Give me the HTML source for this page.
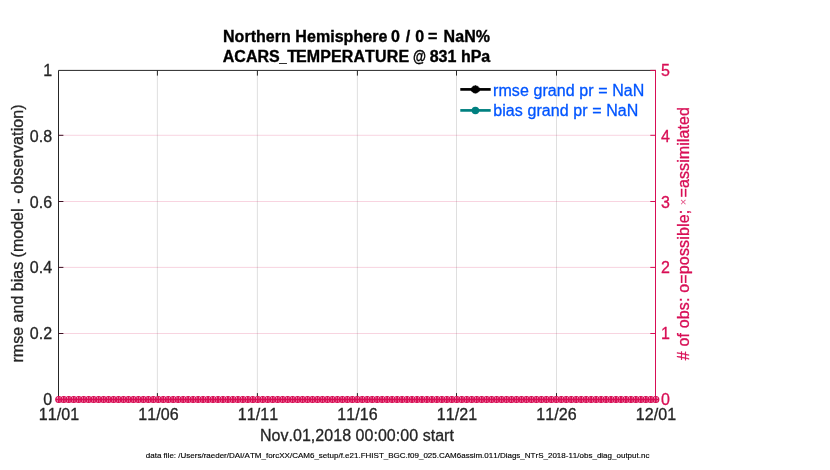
<!DOCTYPE html>
<html lang="en"><head><meta charset="utf-8"><title>ACARS_TEMPERATURE @ 831 hPa</title>
<style>html,body{margin:0;padding:0;background:#fff;}body{width:830px;height:470px;overflow:hidden;}svg{display:block;font-family:"Liberation Sans",Arial,Helvetica,sans-serif;}text{white-space:pre;font-kerning:none;}</style></head><body>
<svg width="830" height="470" viewBox="0 0 830 470">
<rect x="0" y="0" width="830" height="470" fill="#ffffff"/>
<g stroke="#262626" stroke-opacity="0.15" stroke-width="1">
<line x1="157.40" y1="70.4" x2="157.40" y2="399.5"/>
<line x1="257.40" y1="70.4" x2="257.40" y2="399.5"/>
<line x1="357.40" y1="70.4" x2="357.40" y2="399.5"/>
<line x1="456.50" y1="70.4" x2="456.50" y2="399.5"/>
<line x1="556.50" y1="70.4" x2="556.50" y2="399.5"/>
</g>
<g stroke="#d80e55" stroke-opacity="0.18" stroke-width="1">
<line x1="58.5" y1="135.30" x2="655.5" y2="135.30"/>
<line x1="58.5" y1="201.50" x2="655.5" y2="201.50"/>
<line x1="58.5" y1="267.40" x2="655.5" y2="267.40"/>
<line x1="58.5" y1="333.50" x2="655.5" y2="333.50"/>
</g>
<g stroke="#262626" stroke-width="1" fill="none">
<path d="M655.5 70.4 H58.5 V396.5 M58.5 399.5 H655.5"/>
<line x1="157.40" y1="70.4" x2="157.40" y2="75.60000000000001"/>
<line x1="157.40" y1="396.3" x2="157.40" y2="393.1"/>
<line x1="257.40" y1="70.4" x2="257.40" y2="75.60000000000001"/>
<line x1="257.40" y1="396.3" x2="257.40" y2="393.1"/>
<line x1="357.40" y1="70.4" x2="357.40" y2="75.60000000000001"/>
<line x1="357.40" y1="396.3" x2="357.40" y2="393.1"/>
<line x1="456.50" y1="70.4" x2="456.50" y2="75.60000000000001"/>
<line x1="456.50" y1="396.3" x2="456.50" y2="393.1"/>
<line x1="556.50" y1="70.4" x2="556.50" y2="75.60000000000001"/>
<line x1="556.50" y1="396.3" x2="556.50" y2="393.1"/>
<line x1="58.5" y1="135.30" x2="63.400000000000006" y2="135.30" stroke="#3d0f22"/>
<line x1="58.5" y1="201.50" x2="63.400000000000006" y2="201.50" stroke="#3d0f22"/>
<line x1="58.5" y1="267.40" x2="63.400000000000006" y2="267.40" stroke="#3d0f22"/>
<line x1="58.5" y1="333.50" x2="63.400000000000006" y2="333.50" stroke="#3d0f22"/>
</g>
<g stroke="#d80e55" stroke-width="1" fill="none">
<line x1="655.5" y1="69.9" x2="655.5" y2="400.0"/>
<line x1="655.5" y1="70.40" x2="650.3" y2="70.40"/>
<line x1="655.5" y1="135.30" x2="650.3" y2="135.30"/>
<line x1="655.5" y1="201.50" x2="650.3" y2="201.50"/>
<line x1="655.5" y1="267.40" x2="650.3" y2="267.40"/>
<line x1="655.5" y1="333.50" x2="650.3" y2="333.50"/>
<line x1="655.5" y1="399.50" x2="650.3" y2="399.50"/>
</g>
<g stroke="#d80e55" stroke-width="1.2" fill="none">
<circle cx="58.80" cy="399.5" r="3.0"/>
<circle cx="63.77" cy="399.5" r="3.0"/>
<circle cx="68.75" cy="399.5" r="3.0"/>
<circle cx="73.72" cy="399.5" r="3.0"/>
<circle cx="78.70" cy="399.5" r="3.0"/>
<circle cx="83.67" cy="399.5" r="3.0"/>
<circle cx="88.65" cy="399.5" r="3.0"/>
<circle cx="93.62" cy="399.5" r="3.0"/>
<circle cx="98.60" cy="399.5" r="3.0"/>
<circle cx="103.57" cy="399.5" r="3.0"/>
<circle cx="108.55" cy="399.5" r="3.0"/>
<circle cx="113.53" cy="399.5" r="3.0"/>
<circle cx="118.50" cy="399.5" r="3.0"/>
<circle cx="123.47" cy="399.5" r="3.0"/>
<circle cx="128.45" cy="399.5" r="3.0"/>
<circle cx="133.43" cy="399.5" r="3.0"/>
<circle cx="138.40" cy="399.5" r="3.0"/>
<circle cx="143.38" cy="399.5" r="3.0"/>
<circle cx="148.35" cy="399.5" r="3.0"/>
<circle cx="153.32" cy="399.5" r="3.0"/>
<circle cx="158.30" cy="399.5" r="3.0"/>
<circle cx="163.27" cy="399.5" r="3.0"/>
<circle cx="168.25" cy="399.5" r="3.0"/>
<circle cx="173.22" cy="399.5" r="3.0"/>
<circle cx="178.20" cy="399.5" r="3.0"/>
<circle cx="183.18" cy="399.5" r="3.0"/>
<circle cx="188.15" cy="399.5" r="3.0"/>
<circle cx="193.12" cy="399.5" r="3.0"/>
<circle cx="198.10" cy="399.5" r="3.0"/>
<circle cx="203.07" cy="399.5" r="3.0"/>
<circle cx="208.05" cy="399.5" r="3.0"/>
<circle cx="213.02" cy="399.5" r="3.0"/>
<circle cx="218.00" cy="399.5" r="3.0"/>
<circle cx="222.98" cy="399.5" r="3.0"/>
<circle cx="227.95" cy="399.5" r="3.0"/>
<circle cx="232.93" cy="399.5" r="3.0"/>
<circle cx="237.90" cy="399.5" r="3.0"/>
<circle cx="242.88" cy="399.5" r="3.0"/>
<circle cx="247.85" cy="399.5" r="3.0"/>
<circle cx="252.82" cy="399.5" r="3.0"/>
<circle cx="257.80" cy="399.5" r="3.0"/>
<circle cx="262.77" cy="399.5" r="3.0"/>
<circle cx="267.75" cy="399.5" r="3.0"/>
<circle cx="272.73" cy="399.5" r="3.0"/>
<circle cx="277.70" cy="399.5" r="3.0"/>
<circle cx="282.68" cy="399.5" r="3.0"/>
<circle cx="287.65" cy="399.5" r="3.0"/>
<circle cx="292.62" cy="399.5" r="3.0"/>
<circle cx="297.60" cy="399.5" r="3.0"/>
<circle cx="302.57" cy="399.5" r="3.0"/>
<circle cx="307.55" cy="399.5" r="3.0"/>
<circle cx="312.52" cy="399.5" r="3.0"/>
<circle cx="317.50" cy="399.5" r="3.0"/>
<circle cx="322.48" cy="399.5" r="3.0"/>
<circle cx="327.45" cy="399.5" r="3.0"/>
<circle cx="332.43" cy="399.5" r="3.0"/>
<circle cx="337.40" cy="399.5" r="3.0"/>
<circle cx="342.38" cy="399.5" r="3.0"/>
<circle cx="347.35" cy="399.5" r="3.0"/>
<circle cx="352.32" cy="399.5" r="3.0"/>
<circle cx="357.30" cy="399.5" r="3.0"/>
<circle cx="362.28" cy="399.5" r="3.0"/>
<circle cx="367.25" cy="399.5" r="3.0"/>
<circle cx="372.23" cy="399.5" r="3.0"/>
<circle cx="377.20" cy="399.5" r="3.0"/>
<circle cx="382.18" cy="399.5" r="3.0"/>
<circle cx="387.15" cy="399.5" r="3.0"/>
<circle cx="392.12" cy="399.5" r="3.0"/>
<circle cx="397.10" cy="399.5" r="3.0"/>
<circle cx="402.07" cy="399.5" r="3.0"/>
<circle cx="407.05" cy="399.5" r="3.0"/>
<circle cx="412.03" cy="399.5" r="3.0"/>
<circle cx="417.00" cy="399.5" r="3.0"/>
<circle cx="421.98" cy="399.5" r="3.0"/>
<circle cx="426.95" cy="399.5" r="3.0"/>
<circle cx="431.93" cy="399.5" r="3.0"/>
<circle cx="436.90" cy="399.5" r="3.0"/>
<circle cx="441.88" cy="399.5" r="3.0"/>
<circle cx="446.85" cy="399.5" r="3.0"/>
<circle cx="451.82" cy="399.5" r="3.0"/>
<circle cx="456.80" cy="399.5" r="3.0"/>
<circle cx="461.78" cy="399.5" r="3.0"/>
<circle cx="466.75" cy="399.5" r="3.0"/>
<circle cx="471.73" cy="399.5" r="3.0"/>
<circle cx="476.70" cy="399.5" r="3.0"/>
<circle cx="481.68" cy="399.5" r="3.0"/>
<circle cx="486.65" cy="399.5" r="3.0"/>
<circle cx="491.62" cy="399.5" r="3.0"/>
<circle cx="496.60" cy="399.5" r="3.0"/>
<circle cx="501.57" cy="399.5" r="3.0"/>
<circle cx="506.55" cy="399.5" r="3.0"/>
<circle cx="511.53" cy="399.5" r="3.0"/>
<circle cx="516.50" cy="399.5" r="3.0"/>
<circle cx="521.48" cy="399.5" r="3.0"/>
<circle cx="526.45" cy="399.5" r="3.0"/>
<circle cx="531.42" cy="399.5" r="3.0"/>
<circle cx="536.40" cy="399.5" r="3.0"/>
<circle cx="541.38" cy="399.5" r="3.0"/>
<circle cx="546.35" cy="399.5" r="3.0"/>
<circle cx="551.32" cy="399.5" r="3.0"/>
<circle cx="556.30" cy="399.5" r="3.0"/>
<circle cx="561.27" cy="399.5" r="3.0"/>
<circle cx="566.25" cy="399.5" r="3.0"/>
<circle cx="571.22" cy="399.5" r="3.0"/>
<circle cx="576.20" cy="399.5" r="3.0"/>
<circle cx="581.17" cy="399.5" r="3.0"/>
<circle cx="586.15" cy="399.5" r="3.0"/>
<circle cx="591.12" cy="399.5" r="3.0"/>
<circle cx="596.10" cy="399.5" r="3.0"/>
<circle cx="601.07" cy="399.5" r="3.0"/>
<circle cx="606.05" cy="399.5" r="3.0"/>
<circle cx="611.02" cy="399.5" r="3.0"/>
<circle cx="616.00" cy="399.5" r="3.0"/>
<circle cx="620.97" cy="399.5" r="3.0"/>
<circle cx="625.95" cy="399.5" r="3.0"/>
<circle cx="630.92" cy="399.5" r="3.0"/>
<circle cx="635.90" cy="399.5" r="3.0"/>
<circle cx="640.88" cy="399.5" r="3.0"/>
<circle cx="645.85" cy="399.5" r="3.0"/>
<circle cx="650.82" cy="399.5" r="3.0"/>
<circle cx="655.80" cy="399.5" r="3.0"/>
<path d="M58.80 396.40v6.2M55.70 399.5h6.2M63.77 396.40v6.2M60.67 399.5h6.2M68.75 396.40v6.2M65.65 399.5h6.2M73.72 396.40v6.2M70.62 399.5h6.2M78.70 396.40v6.2M75.60 399.5h6.2M83.67 396.40v6.2M80.58 399.5h6.2M88.65 396.40v6.2M85.55 399.5h6.2M93.62 396.40v6.2M90.53 399.5h6.2M98.60 396.40v6.2M95.50 399.5h6.2M103.57 396.40v6.2M100.47 399.5h6.2M108.55 396.40v6.2M105.45 399.5h6.2M113.53 396.40v6.2M110.43 399.5h6.2M118.50 396.40v6.2M115.40 399.5h6.2M123.47 396.40v6.2M120.38 399.5h6.2M128.45 396.40v6.2M125.35 399.5h6.2M133.43 396.40v6.2M130.33 399.5h6.2M138.40 396.40v6.2M135.30 399.5h6.2M143.38 396.40v6.2M140.28 399.5h6.2M148.35 396.40v6.2M145.25 399.5h6.2M153.32 396.40v6.2M150.22 399.5h6.2M158.30 396.40v6.2M155.20 399.5h6.2M163.27 396.40v6.2M160.17 399.5h6.2M168.25 396.40v6.2M165.15 399.5h6.2M173.22 396.40v6.2M170.12 399.5h6.2M178.20 396.40v6.2M175.10 399.5h6.2M183.18 396.40v6.2M180.08 399.5h6.2M188.15 396.40v6.2M185.05 399.5h6.2M193.12 396.40v6.2M190.03 399.5h6.2M198.10 396.40v6.2M195.00 399.5h6.2M203.07 396.40v6.2M199.97 399.5h6.2M208.05 396.40v6.2M204.95 399.5h6.2M213.02 396.40v6.2M209.92 399.5h6.2M218.00 396.40v6.2M214.90 399.5h6.2M222.98 396.40v6.2M219.88 399.5h6.2M227.95 396.40v6.2M224.85 399.5h6.2M232.93 396.40v6.2M229.83 399.5h6.2M237.90 396.40v6.2M234.80 399.5h6.2M242.88 396.40v6.2M239.78 399.5h6.2M247.85 396.40v6.2M244.75 399.5h6.2M252.82 396.40v6.2M249.72 399.5h6.2M257.80 396.40v6.2M254.70 399.5h6.2M262.77 396.40v6.2M259.67 399.5h6.2M267.75 396.40v6.2M264.65 399.5h6.2M272.73 396.40v6.2M269.62 399.5h6.2M277.70 396.40v6.2M274.60 399.5h6.2M282.68 396.40v6.2M279.57 399.5h6.2M287.65 396.40v6.2M284.55 399.5h6.2M292.62 396.40v6.2M289.52 399.5h6.2M297.60 396.40v6.2M294.50 399.5h6.2M302.57 396.40v6.2M299.47 399.5h6.2M307.55 396.40v6.2M304.45 399.5h6.2M312.52 396.40v6.2M309.42 399.5h6.2M317.50 396.40v6.2M314.40 399.5h6.2M322.48 396.40v6.2M319.38 399.5h6.2M327.45 396.40v6.2M324.35 399.5h6.2M332.43 396.40v6.2M329.32 399.5h6.2M337.40 396.40v6.2M334.30 399.5h6.2M342.38 396.40v6.2M339.27 399.5h6.2M347.35 396.40v6.2M344.25 399.5h6.2M352.32 396.40v6.2M349.22 399.5h6.2M357.30 396.40v6.2M354.20 399.5h6.2M362.28 396.40v6.2M359.18 399.5h6.2M367.25 396.40v6.2M364.15 399.5h6.2M372.23 396.40v6.2M369.12 399.5h6.2M377.20 396.40v6.2M374.10 399.5h6.2M382.18 396.40v6.2M379.07 399.5h6.2M387.15 396.40v6.2M384.05 399.5h6.2M392.12 396.40v6.2M389.02 399.5h6.2M397.10 396.40v6.2M394.00 399.5h6.2M402.07 396.40v6.2M398.97 399.5h6.2M407.05 396.40v6.2M403.95 399.5h6.2M412.03 396.40v6.2M408.93 399.5h6.2M417.00 396.40v6.2M413.90 399.5h6.2M421.98 396.40v6.2M418.88 399.5h6.2M426.95 396.40v6.2M423.85 399.5h6.2M431.93 396.40v6.2M428.82 399.5h6.2M436.90 396.40v6.2M433.80 399.5h6.2M441.88 396.40v6.2M438.77 399.5h6.2M446.85 396.40v6.2M443.75 399.5h6.2M451.82 396.40v6.2M448.72 399.5h6.2M456.80 396.40v6.2M453.70 399.5h6.2M461.78 396.40v6.2M458.68 399.5h6.2M466.75 396.40v6.2M463.65 399.5h6.2M471.73 396.40v6.2M468.62 399.5h6.2M476.70 396.40v6.2M473.60 399.5h6.2M481.68 396.40v6.2M478.57 399.5h6.2M486.65 396.40v6.2M483.55 399.5h6.2M491.62 396.40v6.2M488.52 399.5h6.2M496.60 396.40v6.2M493.50 399.5h6.2M501.57 396.40v6.2M498.47 399.5h6.2M506.55 396.40v6.2M503.45 399.5h6.2M511.53 396.40v6.2M508.43 399.5h6.2M516.50 396.40v6.2M513.40 399.5h6.2M521.48 396.40v6.2M518.38 399.5h6.2M526.45 396.40v6.2M523.35 399.5h6.2M531.42 396.40v6.2M528.32 399.5h6.2M536.40 396.40v6.2M533.30 399.5h6.2M541.38 396.40v6.2M538.27 399.5h6.2M546.35 396.40v6.2M543.25 399.5h6.2M551.32 396.40v6.2M548.22 399.5h6.2M556.30 396.40v6.2M553.20 399.5h6.2M561.27 396.40v6.2M558.17 399.5h6.2M566.25 396.40v6.2M563.15 399.5h6.2M571.22 396.40v6.2M568.12 399.5h6.2M576.20 396.40v6.2M573.10 399.5h6.2M581.17 396.40v6.2M578.07 399.5h6.2M586.15 396.40v6.2M583.05 399.5h6.2M591.12 396.40v6.2M588.02 399.5h6.2M596.10 396.40v6.2M593.00 399.5h6.2M601.07 396.40v6.2M597.97 399.5h6.2M606.05 396.40v6.2M602.95 399.5h6.2M611.02 396.40v6.2M607.92 399.5h6.2M616.00 396.40v6.2M612.90 399.5h6.2M620.97 396.40v6.2M617.87 399.5h6.2M625.95 396.40v6.2M622.85 399.5h6.2M630.92 396.40v6.2M627.82 399.5h6.2M635.90 396.40v6.2M632.80 399.5h6.2M640.88 396.40v6.2M637.77 399.5h6.2M645.85 396.40v6.2M642.75 399.5h6.2M650.82 396.40v6.2M647.72 399.5h6.2M655.80 396.40v6.2M652.70 399.5h6.2" stroke-width="1.9"/>
</g>
<g font-size="16" fill="#262626" stroke="#262626" stroke-width="0.3">
<text x="52.1" y="75.90" text-anchor="end">1</text>
<text x="52.1" y="141.72" text-anchor="end">0.8</text>
<text x="52.1" y="207.54" text-anchor="end">0.6</text>
<text x="52.1" y="273.36" text-anchor="end">0.4</text>
<text x="52.1" y="339.18" text-anchor="end">0.2</text>
<text x="52.1" y="405.00" text-anchor="end">0</text>
<text x="59.00" y="419.5" text-anchor="middle" letter-spacing="0.1">11/01</text>
<text x="158.50" y="419.5" text-anchor="middle" letter-spacing="0.1">11/06</text>
<text x="258.00" y="419.5" text-anchor="middle" letter-spacing="0.1">11/11</text>
<text x="357.50" y="419.5" text-anchor="middle" letter-spacing="0.1">11/16</text>
<text x="457.00" y="419.5" text-anchor="middle" letter-spacing="0.1">11/21</text>
<text x="556.50" y="419.5" text-anchor="middle" letter-spacing="0.1">11/26</text>
<text x="656.00" y="419.5" text-anchor="middle" letter-spacing="0.1">12/01</text>
</g>
<g font-size="16" fill="#d80e55" stroke="#d80e55" stroke-width="0.3">
<text x="661" y="75.90">5</text>
<text x="661" y="141.72">4</text>
<text x="661" y="207.54">3</text>
<text x="661" y="273.36">2</text>
<text x="661" y="339.18">1</text>
<text x="661" y="405.00">0</text>
</g>
<g font-size="16" font-weight="bold" fill="#000" stroke="#000" stroke-width="0.35">
<text y="42"><tspan x="223" letter-spacing="0.04">Northern Hemisphere </tspan><tspan x="391.06">0 </tspan><tspan x="405.8">/ </tspan><tspan x="415.15">0 </tspan><tspan x="427.93">= </tspan><tspan x="443.5" letter-spacing="0.111">NaN%</tspan></text>
<text y="62"><tspan x="222.8">ACARS</tspan><tspan x="279.2" textLength="7.4" lengthAdjust="spacingAndGlyphs">_</tspan><tspan x="287.2">T</tspan><tspan x="295.9" letter-spacing="0.13">EMPERATURE </tspan><tspan x="412.9" textLength="12.95" lengthAdjust="spacingAndGlyphs">@</tspan><tspan x="425.8"> </tspan><tspan x="429.8" letter-spacing="-0.1">831 </tspan><tspan x="461.04" letter-spacing="-0.158">hPa</tspan></text>
</g>
<text x="259.9" y="441.3" font-size="16" fill="#262626" stroke="#262626" stroke-width="0.3" letter-spacing="0.04">Nov.01,2018 00:00:00 start</text>
<text transform="translate(23.2 362.5) rotate(-90)" font-size="16" fill="#262626" stroke="#262626" stroke-width="0.3" ><tspan letter-spacing="0.013">rmse and bias (model</tspan><tspan letter-spacing="0.13"> - observation)</tspan></text>
<text transform="translate(688.9 360.2) rotate(-90)" font-size="16" fill="#d80e55" stroke="#d80e55" stroke-width="0.3"><tspan letter-spacing="0.16"># of obs: o=possible; </tspan><tspan font-size="11" dx="-0.3" dy="-1.7" fill-opacity="0.75" stroke-opacity="0">×</tspan><tspan dx="1.5" dy="1.7" letter-spacing="0.072">=assimilated</tspan></text>
<g stroke-width="2.7" fill="none">
<line x1="460.3" y1="89.4" x2="490.7" y2="89.4" stroke="#000"/>
<line x1="460.3" y1="110.4" x2="490.7" y2="110.4" stroke="#008080"/>
</g>
<circle cx="475.4" cy="110.4" r="3.75" fill="#008080"/>
<circle cx="475.4" cy="89.4" r="3.0" fill="#000"/>
<path d="M475.40 85.20L475.40 93.60M473.60 85.71L477.20 93.09M477.20 85.71L473.60 93.09M472.26 86.76L478.54 92.04M478.54 86.76L472.26 92.04M471.00 88.06L479.80 90.74M479.80 88.06L471.00 90.74" stroke="#000" stroke-width="1.4" fill="none"/>
<g font-size="16" fill="#0055ff" stroke="#0055ff" stroke-width="0.3">
<text x="493.0" y="95.6" letter-spacing="0.083">rmse grand pr = NaN</text>
<text x="493.2" y="115.8" letter-spacing="0.083">bias grand pr = NaN</text>
</g>
<text x="145.8" y="458" font-size="8" fill="#000" stroke="#000" stroke-width="0.15" letter-spacing="0.002">data file: /Users/raeder/DAI/ATM_forcXX/CAM6_setup/f.e21.FHIST_BGC.f09_025.CAM6assim.011/Diags_NTrS_2018-11/obs_diag_output.nc</text>
</svg></body></html>
